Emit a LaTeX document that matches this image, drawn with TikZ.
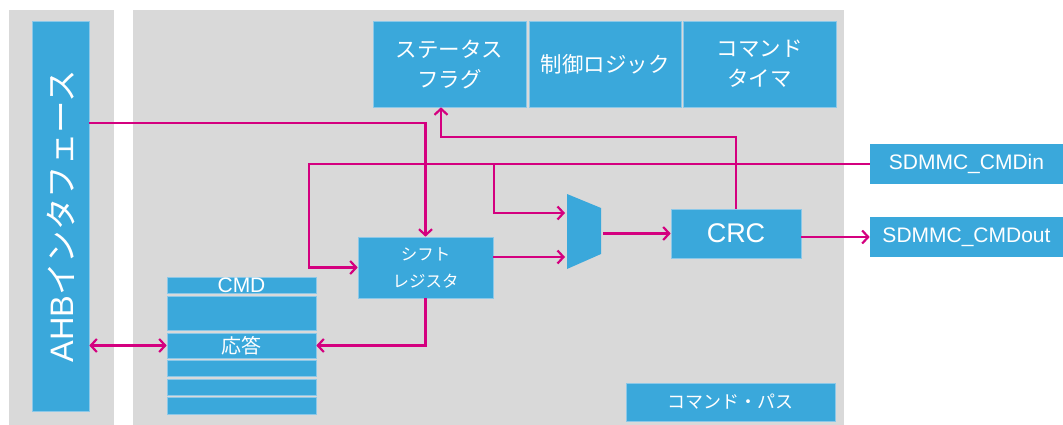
\documentclass[tikz,border=0pt]{standalone}
\usepackage{fontspec}
\setmainfont{Liberation Sans}
\newfontfamily\jp{Noto Sans CJK JP}
\usetikzlibrary{arrows.meta,calc}
\definecolor{stblue}{HTML}{3AA8DB}
\definecolor{stgray}{HTML}{D9D9D9}
\definecolor{stmag}{HTML}{D4007F}
\definecolor{edge}{HTML}{8CC8E8}
\tikzset{
  box/.style={fill=stblue, draw=edge, line width=0.6pt, text=white, inner sep=0pt, align=center},
  row/.style={box, minimum width=149pt},
  wire/.style={draw=stmag, line width=2.4pt},
  arr/.style={wire, -{Straight Barb[length=6pt,width=13pt,line width=2.2pt]}},
  darr/.style={wire, {Straight Barb[length=6pt,width=13pt,line width=2.2pt]}-{Straight Barb[length=6pt,width=13pt,line width=2.2pt]}},
}
\begin{document}
\begin{tikzpicture}[x=1pt,y=-1pt]
\useasboundingbox (0,0) rectangle (1063,425);
% panels
\fill[stgray] (9,10) rectangle (114,425);
\fill[stgray] (133,10) rectangle (844,425);
% AHB
\node[box, minimum width=57pt, minimum height=390pt] (ahb) at (60.5,216) {};
\node[rotate=90, text=white, font=\fontsize{32.5}{32.5}\selectfont] (ahbt) at (ahb.center) {AHB{\jp インタフェース}};
% top boxes
\node[box, minimum width=153pt, minimum height=86pt, font=\jp\fontsize{21.5}{30}\selectfont] (status) at (449.5,64) {ステータス\\フラグ};
\node[box, minimum width=152pt, minimum height=86pt, font=\jp\fontsize{21.5}{30}\selectfont] (ctrl) at (605,64) {制御ロジック};
\node[box, minimum width=153pt, minimum height=86pt, font=\jp\fontsize{21.5}{30}\selectfont] (timer) at (759.5,64) {コマンド\\タイマ};
% shift register
\node[box, minimum width=135pt, minimum height=61pt, font=\jp\fontsize{16.5}{27}\selectfont] (shift) at (425.5,267.5) {シフト\\レジスタ};
% CRC
\node[box, minimum width=130pt, minimum height=49pt, font=\fontsize{27}{27}\selectfont] (crc) at (736,233.5) {CRC};
% external pins
\node[box, draw=none, minimum width=193pt, minimum height=40pt, font=\fontsize{21}{21}\selectfont] (cmdin) at (966.5,164) {SDMMC\_CMDin};
\node[box, draw=none, minimum width=193pt, minimum height=40pt, font=\fontsize{21}{21}\selectfont] (cmdout) at (966.5,237) {SDMMC\_CMDout};
% command path label
\node[box, minimum width=209pt, minimum height=38pt, font=\jp\fontsize{18}{18}\selectfont] (path) at (730.5,402) {コマンド・パス};
% stack
\node[row, minimum height=16pt, font=\fontsize{21}{21}\selectfont] (r1) at (241.5,285) {CMD};
\node[row, minimum height=34pt] (r2) at (241.5,313) {};
\node[row, minimum height=25pt, font=\jp\fontsize{20}{20}\selectfont] (resp) at (241.5,345.5) {応答};
\node[row, minimum height=16pt] (r4) at (241.5,368) {};
\node[row, minimum height=16pt] (r5) at (241.5,387) {};
\node[row, minimum height=17pt] (r6) at (241.5,405.5) {};
% mux
\fill[stblue] (567,194) -- (601,208) -- (601,254) -- (567,269) -- cycle;
\coordinate (muxin1) at (565,213);
\coordinate (muxin2) at (565,257);
\coordinate (muxout) at (603,233.5);
% helper coordinates
\coordinate (a1) at (90,123);
\coordinate (c1) at (309,164);
\coordinate (br) at (494,164);
\coordinate (f1) at (441,137);
% connectors
\draw[arr] (ahb.east |- a1) -| (shift.north);
\draw[arr] (cmdin.west) -- (c1) |- (shift.west);
\draw[arr] (br) |- (muxin1);
\draw[arr] (shift.east |- muxin2) -- (muxin2);
\draw[arr] (muxout) -- (crc.west);
\draw[arr] (crc.east |- cmdout.west) -- (cmdout.west);
\draw[arr] (crc.north) |- (f1) -- (f1 |- status.south);
\draw[arr] (shift.south) |- (resp.east);
\draw[darr] (ahb.east |- resp.west) -- (resp.west);
\end{tikzpicture}
\end{document}
